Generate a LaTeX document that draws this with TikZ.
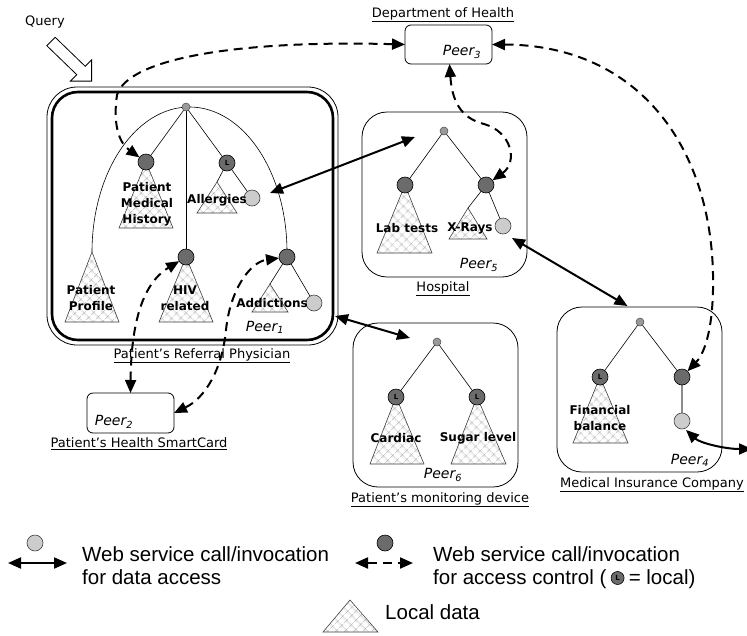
\documentclass[tikz,border=0pt]{standalone}
\usepackage{fontspec}
\setmainfont{DejaVu Sans}
\newfontfamily\legendfont{Liberation Sans}
\usetikzlibrary{arrows.meta,patterns.meta,calc}
\pgfdeclarelayer{background}
\pgfsetlayers{background,main}
\tikzset{
  dnode/.style={circle,draw=black,line width=0.6pt,fill=black!58,minimum size=16pt,inner sep=0pt,outer sep=0pt},
  lnode/.style={dnode,font=\fontsize{7}{7}\selectfont\bfseries},
  wnode/.style={circle,draw=black!75,line width=0.6pt,fill=black!20,minimum size=16pt,inner sep=0pt,outer sep=0pt},
  rootnode/.style={circle,draw=black!70,line width=0.5pt,fill=black!40,minimum size=8pt,inner sep=0pt,outer sep=0pt},
  tri/.style={draw=black!75,line width=0.6pt,pattern={Hatch[angle=45,distance=6.5pt,line width=0.45pt]},pattern color=black!30},
  edge/.style={draw=black,line width=0.6pt},
  peerbox/.style={draw=black,line width=0.8pt,rounded corners=25pt,inner sep=0pt,outer sep=0pt},
  smallbox/.style={draw=black,line width=0.8pt,rounded corners=6pt,inner sep=0pt,outer sep=0pt},
  dlabel/.style={font=\fontsize{12}{16}\selectfont\bfseries,align=center,inner sep=0pt},
  plabel/.style={font=\fontsize{14}{14}\selectfont\itshape,inner sep=0pt},
  ulabel/.style={font=\fontsize{13}{14}\selectfont,inner sep=0pt},
  legtext/.style={font=\legendfont\fontsize{20.5}{23}\selectfont,inner sep=0pt},
  acc/.style={line width=2pt,{Triangle[length=13pt,width=11pt]}-{Triangle[length=13pt,width=11pt]}},
  ctl/.style={acc,dash pattern=on 9pt off 6pt},
}
\begin{document}
\begin{tikzpicture}[x=1pt,y=-1pt]
\begin{pgfonlayer}{background}
\fill[white] (0,0) rectangle (747,635);
\end{pgfonlayer}
\useasboundingbox (0,0) rectangle (747,635);

% ---------- peer boxes
\node[peerbox,line width=2.6pt,rounded corners=26pt,minimum width=281pt,minimum height=248pt] (p1) at (192.5,216) {};
\draw[line width=0.8pt,rounded corners=30pt] ($(p1.north west)+(-5,-5)$) rectangle ($(p1.south east)+(5,5)$);
\node[smallbox,minimum width=87pt,minimum height=39pt] (p3) at (448.5,44.5) {};
\node[peerbox,minimum width=165pt,minimum height=165pt] (p5) at (444.5,194.5) {};
\node[peerbox,minimum width=165pt,minimum height=164pt] (p6) at (435.5,405) {};
\node[peerbox,minimum width=165pt,minimum height=165pt] (p4) at (639.5,389.5) {};
\node[smallbox,minimum width=87pt,minimum height=40pt] (p2) at (130.5,413) {};

% ---------- query arrow
\node[ulabel] (q) at (45,22) {Query};
\draw[line width=0.8pt,fill=white] (55.2,37.3) -- (85.2,66.3) -- (91.6,59.9) -- (91.6,81.1) -- (70.4,81.1) -- (76.8,74.7) -- (46.8,45.7) -- cycle;

% ---------- Peer1 tree
\node[rootnode] (r1) at (186,107) {};
\node[dnode] (pmh) at (146,162) {};
\node[lnode] (al) at (227,163) {L};
\node[wnode] (alw) at (252,198) {};
\node[dnode] (hiv) at (186,257) {};
\node[dnode] (add) at (287,257) {};
\node[wnode] (addw) at (314,303) {};
\coordinate (ppa) at (92,252);
\coordinate (ala) at (217,182);
\coordinate (ada) at (270,284);

% ---------- Hospital tree
\node[rootnode] (r5) at (444,131) {};
\node[dnode] (lab) at (405,185) {};
\node[dnode] (h5r) at (486,185) {};
\node[wnode] (x5l) at (503,226) {};
\coordinate (xra) at (468,208);

% ---------- Peer6 tree
\node[rootnode] (r6) at (437,342) {};
\node[lnode] (card) at (396,397) {L};
\node[lnode] (sug) at (477,397) {L};

% ---------- Peer4 tree
\node[rootnode] (r4) at (640,322) {};
\node[lnode] (fin) at (600,377) {L};
\node[dnode] (r4n) at (682,377) {};
\node[wnode] (w4) at (682,421) {};

\begin{pgfonlayer}{background}
\draw[edge] plot[domain=0:180,samples=90,smooth] ({189.5+97.5*cos(\x)},{252-145*sin(\x)});
\draw[edge] (r1) -- (pmh);
\draw[edge] (r1) -- (al);
\draw[edge] (r1) -- (hiv);
\draw[edge] (al) -- (ala);
\draw[edge] (al) -- (alw);
\draw[edge] (add) -- (ada);
\draw[edge] (add) -- (addw);
\draw[tri] (pmh.center) -- (119,228) -- (173,228) -- cycle;
\draw[tri] (ppa) -- (65,322) -- (119,322) -- cycle;
\draw[tri] (hiv.center) -- (159,322) -- (213,322) -- cycle;
\draw[tri] (ala) -- (197,213) -- (237,213) -- cycle;
\draw[tri] (ada) -- (252,312) -- (288,312) -- cycle;
\draw[edge] (r5) -- (lab);
\draw[edge] (r5) -- (h5r);
\draw[edge] (h5r) -- (xra);
\draw[edge] (h5r) -- (x5l);
\draw[tri] (lab.center) -- (377,253) -- (432,253) -- cycle;
\draw[tri] (xra) -- (449,239) -- (487,239) -- cycle;
\draw[edge] (r6) -- (card);
\draw[edge] (r6) -- (sug);
\draw[tri] (card.center) -- (370,464) -- (424,464) -- cycle;
\draw[tri] (sug.center) -- (451,464) -- (506,464) -- cycle;
\draw[edge] (r4) -- (fin);
\draw[edge] (r4) -- (r4n);
\draw[draw=black!45,line width=1.3pt] (r4n) -- (w4);
\draw[tri] (fin.center) -- (573,443) -- (628,443) -- cycle;
\draw[tri] (350,600) -- (323,632) -- (378,632) -- cycle;
\end{pgfonlayer}

% ---------- data labels
\node[dlabel] (t1) at (147,204) {Patient\\Medical\\History};
\node[dlabel] (t2) at (91,298) {Patient\\Profile};
\node[dlabel] (t3) at (185,298) {HIV\\related};
\node[dlabel] (t4) at (217,200) {Allergies};
\node[dlabel] (t5) at (272,303) {Addictions};
\node[dlabel] (t6) at (407,228) {Lab tests};
\node[dlabel] (t7) at (470,228) {X-Rays};
\node[dlabel] (t8) at (396,438) {Cardiac};
\node[dlabel] (t9) at (478,438) {Sugar level};
\node[dlabel] (t10) at (600,418) {Financial\\balance};

% ---------- peer labels
\node[plabel] (n1) at (265,327) {Peer\textsubscript{1}};
\node[plabel] (n2) at (114,422) {Peer\textsubscript{2}};
\node[plabel] (n3) at (462,52) {Peer\textsubscript{3}};
\node[plabel] (n4) at (690,460) {Peer\textsubscript{4}};
\node[plabel] (n5) at (479,265) {Peer\textsubscript{5}};
\node[plabel] (n6) at (443,475) {Peer\textsubscript{6}};

\node[ulabel] (u3) at (443,15) {\underline{Department of Health}};
\node[ulabel] (u5) at (443,289) {\underline{Hospital}};
\node[ulabel] (u1) at (202,356) {\underline{Patient’s Referral Physician}};
\node[ulabel] (u2) at (139,444) {\underline{Patient’s Health SmartCard}};
\node[ulabel] (u6) at (440,500) {\underline{Patient’s monitoring device}};
\node[ulabel] (u4) at (652,485) {\underline{Medical Insurance Company}};

% ---------- data access connectors
\draw[acc] ($(alw)+(18,-5)$) -- ($(r5)+(-29,6)$);
\draw[acc] ($(p1.south east)+(2,-24)$) -- ($(r6)+(-27,-4)$);
\draw[acc] ($(x5l)+(9,12)$) -- ($(p4.north)+(-12,-1)$);
\coordinate (offp) at (752,449);
\draw[acc] ($(w4)+(4,9)$) .. controls (700,443) and (725,449) .. (offp);

% ---------- access control connectors
\draw[ctl] (p3.west) .. controls (240,40) and (128,58) .. (117,95) .. controls (113,122) and (118,142) .. (pmh);
\draw[ctl] (p3.east) .. controls (640,45) and (716,150) .. (713,290) .. controls (712,335) and (703,355) .. (r4n);
\draw[ctl] ($(p3.south)+(1,0)$) .. controls (452,100) and (460,118) .. (484,124) .. controls (512,132) and (518,162) .. (h5r);
\draw[ctl] (p2.north) .. controls (131,330) and (140,285) .. (hiv);
\draw[ctl] (p2.east) .. controls (205,398) and (222,370) .. (226,330) .. controls (230,290) and (250,262) .. (add);

% ---------- legend
\node[wnode] (lgw) at (35,543) {};
\coordinate (lga1) at (8,563);
\coordinate (lga2) at (67,563);
\draw[acc] (lga1) -- (lga2);
\node[legtext,anchor=base west] (lt1) at (82,561) {Web service call/invocation};
\node[legtext,anchor=base west] (lt2) at (82,584) {for data access};
\node[dnode] (lgd) at (385,543) {};
\coordinate (lgb1) at (355,563);
\coordinate (lgb2) at (413,563);
\draw[ctl] (lgb1) -- (lgb2);
\node[legtext,anchor=base west] (lt3) at (433,561) {Web service call/invocation};
\node[legtext,anchor=base west] (lt4) at (433,584) {for access control (};
\node[lnode,minimum size=13pt] (lgl) at ($(lt4.base east)+(11,-6)$) {L};
\node[legtext,anchor=base west] (lt5) at ($(lt4.base east)+(22,0)$) {= local)};
\node[legtext,anchor=base west] (lt6) at (385,619) {Local data};
\end{tikzpicture}
\end{document}
